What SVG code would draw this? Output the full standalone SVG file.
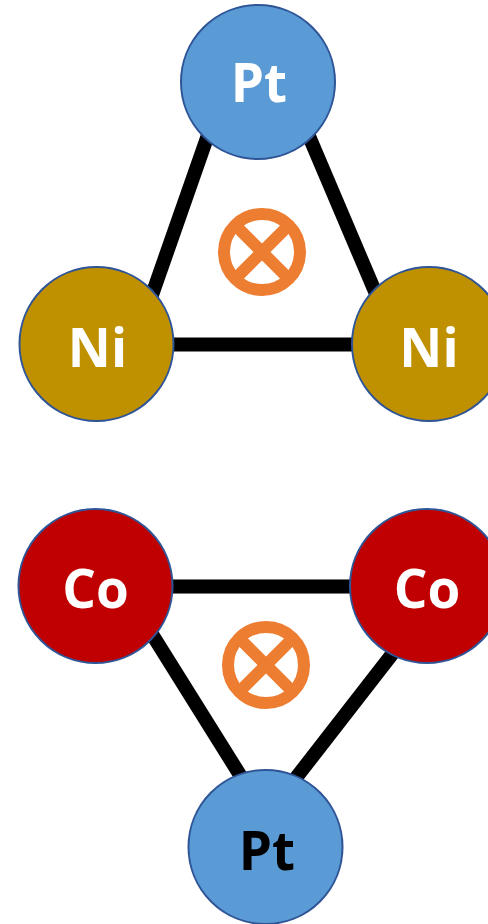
<svg xmlns="http://www.w3.org/2000/svg" width="488" height="924" viewBox="0 0 488 924">
<style>
.bond{stroke:#000;stroke-width:14;fill:none}
.atom{stroke:#2F5597;stroke-width:2}
.pt{fill:#5B9BD5}
.ni{fill:#BF9000}
.co{fill:#C00000}
.lbl{font-family:"Open Sans","Liberation Sans",sans-serif;font-weight:bold;font-size:53px;text-anchor:middle}
.w{fill:#fff}
.k{fill:#000}
.otimes{stroke:#ED7D31;stroke-width:12;fill:none}
</style>
<rect width="488" height="924" fill="#fff"/>
<g id="connectors">
<line class="bond" x1="215" y1="115" x2="145" y2="315"/>
<line class="bond" x1="300" y1="115" x2="385" y2="315"/>
<line class="bond" x1="120" y1="344.5" x2="400" y2="344.5"/>
<rect x="120" y="579.5" width="280" height="14" fill="#000" stroke="#777" stroke-width="1"/>
<line class="bond" x1="140" y1="615" x2="260" y2="807"/>
<line class="bond" x1="400" y1="644" x2="285" y2="792"/>
</g>
<g id="otimes-top" class="otimes">
<circle cx="262" cy="252" r="38"/>
<line x1="235" y1="225" x2="289" y2="279"/>
<line x1="289" y1="225" x2="235" y2="279"/>
</g>
<g id="otimes-bottom" class="otimes">
<circle cx="266" cy="665" r="38"/>
<line x1="239" y1="638" x2="293" y2="692"/>
<line x1="293" y1="638" x2="239" y2="692"/>
</g>
<g id="pt-top"><circle class="atom pt" cx="258" cy="82" r="77"/><text class="lbl w" x="259" y="102">Pt</text></g>
<g id="ni-left"><circle class="atom ni" cx="96.5" cy="344" r="77"/><text class="lbl w" x="97.5" y="367">Ni</text></g>
<g id="ni-right"><circle class="atom ni" cx="429" cy="344" r="77"/><text class="lbl w" x="429" y="367">Ni</text></g>
<g id="co-left"><circle class="atom co" cx="95.5" cy="586" r="77"/><text class="lbl w" x="95.5" y="608">Co</text></g>
<g id="co-right"><circle class="atom co" cx="427" cy="586" r="77"/><text class="lbl w" x="427" y="608">Co</text></g>
<g id="pt-bottom"><circle class="atom pt" cx="265.5" cy="847" r="77"/><text class="lbl k" x="267" y="870">Pt</text></g>
</svg>
